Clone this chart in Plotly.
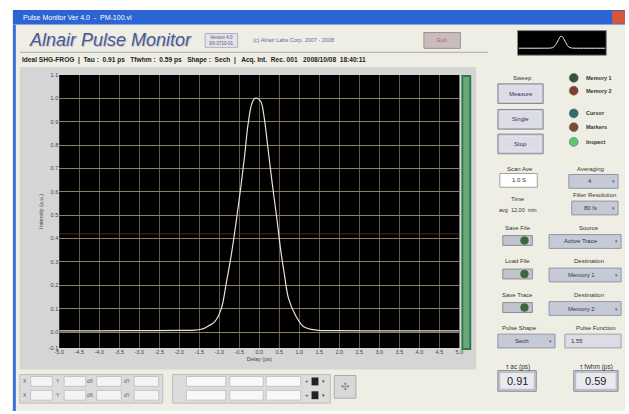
import plotly.graph_objects as go

# ---------------- data ----------------
delay_ps = [-5.0, -4.0, -3.0, -2.0, -1.6, -1.45, -1.36, -1.25, -1.11, -0.95, -0.82, -0.70,
            -0.58, -0.47, -0.37, -0.28, -0.19, -0.11, -0.05, 0.04, 0.12, 0.20, 0.28, 0.365,
            0.45, 0.53, 0.63, 0.73, 0.90, 1.10, 1.43, 2.0, 3.0, 4.0, 5.0]
intensity = [0.005, 0.005, 0.006, 0.007, 0.008, 0.012, 0.017, 0.028, 0.045, 0.10, 0.215, 0.33,
             0.47, 0.61, 0.75, 0.89, 0.975, 1.0, 1.0, 0.985, 0.92, 0.81, 0.695, 0.58,
             0.47, 0.356, 0.243, 0.144, 0.073, 0.024, 0.008, 0.006, 0.005, 0.005, 0.005]

x_tick_vals = [-5.0, -4.5, -4.0, -3.5, -3.0, -2.5, -2.0, -1.5, -1.0, -0.5, 0.0,
               0.5, 1.0, 1.5, 2.0, 2.5, 3.0, 3.5, 4.0, 4.5, 5.0]
x_tick_text = ["-5.0", "-4.5", "-4.0", "-3.5", "-3.0", "-2.5", "-2.0", "-1.5", "-1.0", "-0.5", "0.0",
               "0.5", "1.0", "1.5", "2.0", "2.5", "3.0", "3.5", "4.0", "4.5", "5.0"]
y_tick_vals = [-0.068, 0.0, 0.1, 0.2, 0.3, 0.4, 0.5, 0.6, 0.7, 0.8, 0.9, 1.0, 1.1]
y_tick_text = ["-0.1", "0.0", "0.1", "0.2", "0.3", "0.4", "0.5", "0.6", "0.7", "0.8", "0.9", "1.0", "1.1"]

cursor_x_ps = 0.5
cursor_y = 0.42

tau_ac_ps = "0.91"
tau_fwhm_ps = "0.59"

# ---------------- helpers (pixel -> paper) ----------------
W, H = 629, 414


def px(x):
    return x / W


def py(y):
    return 1 - y / H


shapes = []
annotations = []
FONT = "Liberation Sans"


def rect(x0, y0, x1, y1, fill, line=None, lw=1):
    shapes.append(dict(type="rect", xref="paper", yref="paper", layer="below",
                       x0=px(x0), x1=px(x1), y0=py(y1), y1=py(y0),
                       fillcolor=fill, line=dict(color=line or fill, width=lw if line else 0)))


def hline(x0, x1, y, color, lw=1):
    shapes.append(dict(type="line", xref="paper", yref="paper", layer="below",
                       x0=px(x0), x1=px(x1), y0=py(y), y1=py(y), line=dict(color=color, width=lw)))


def text(x, y, s, size=7, color="#333333", anchor="center", bold=False, italic=False, family=FONT):
    if bold:
        s = "<b>" + s + "</b>"
    if italic:
        s = "<i>" + s + "</i>"
    annotations.append(dict(x=px(x), y=py(y), xref="paper", yref="paper", text=s, showarrow=False,
                            xanchor=anchor, yanchor="middle",
                            font=dict(size=size, color=color, family=family)))


def circle(cx, cy, r, fill):
    shapes.append(dict(type="circle", xref="paper", yref="paper", layer="below",
                       x0=px(cx - r), x1=px(cx + r), y0=py(cy + r), y1=py(cy - r),
                       fillcolor=fill, line=dict(color="#555555", width=0.5)))


# window
rect(0, 0, 629, 414, "#ffffff")
rect(8, 7, 629, 22, "#2c64d4")
rect(8, 22, 629, 414, "#efeee4")
rect(8, 22, 11, 414, "#3a6fd8")
text(16, 14.5, "Pulse Monitor Ver 4.0  -  PM-100.vi", size=7, color="#ffffff", anchor="left")
rect(616, 8, 629, 21, "#d8553a")

# header
text(23, 39, "Alnair Pulse Monitor", size=18, color="#c8c8d8", anchor="left", italic=True)
text(22, 38, "Alnair Pulse Monitor", size=18, color="#4a5a8e", anchor="left", italic=True)
rect(203, 31, 236, 45, "#e4e4ec", "#b0b0c0")
text(219.5, 35, "Version 4.0", size=4.5, color="#555577")
text(219.5, 41, "SN 0710-01", size=4.5, color="#555577")
text(250, 38, "(c) Alnair Labs Corp. 2007 - 2008", size=5.5, color="#5a6a9a", anchor="left")
rect(425, 30, 462, 46, "#c8bcbc", "#9a9090")
text(443.5, 38, "Exit", size=6, color="#c06060")
hline(15, 490, 50, "#a8a8a8", 1)
text(15, 58, "Ideal SHG-FROG  |  Tau :  0.91 ps   Tfwhm :  0.59 ps   Shape :  Sech  |   Acq. Int.  Rec. 001   2008/10/08  18:40:11",
     size=6.6, color="#222222", anchor="left", bold=True)

# mini scope
rect(520, 28, 610, 53, "#000000", "#888888")

# chart panel
rect(15, 65, 478, 372, "#d5d5d5")
rect(55, 73, 461, 350, "#000000")
rect(463, 73, 473, 352, "#2f7a4a")
rect(465, 75, 471, 350, "#6aa87c")

# bottom cursor panels
rect(15, 377, 160, 406, "#dcdcdc", "#bcbcbc")
for row_y in (384, 398):
    for (bx0, bx1) in ((26, 48), (60, 82), (93, 118), (131, 156)):
        rect(bx0, row_y - 5, bx1, row_y + 5, "#f4f4f4", "#c4c4c4")
    for lx, lab in ((20, "X"), (54, "Y"), (87, "dX"), (124, "dY")):
        text(lx, row_y, lab, size=5, color="#555555")
rect(170, 377, 330, 406, "#dcdcdc", "#bcbcbc")
for row_y in (384, 398):
    for (bx0, bx1) in ((184, 224), (228, 262), (265, 300)):
        rect(bx0, row_y - 5, bx1, row_y + 5, "#f8f8f8", "#c4c4c4")
    rect(311, row_y - 4, 318, row_y + 4, "#222222")
    text(306, row_y, "+", size=6, color="#444444")
    text(323, row_y, "▾", size=5, color="#444444")
rect(334, 378, 356, 401, "#d8d8d8", "#aaaaaa")
text(345, 389.5, "✣", size=10, color="#888888")

# right control panel
def button(x0, y0, x1, y1, label):
    rect(x0, y0, x1, y1, "#c8c8d4", "#8a8a9a", 1)
    rect(x0 + 2, y0 + 2, x1 - 2, y1 - 2, "#dcdce6", "#f4f4f8", 0.5)
    text((x0 + x1) / 2, (y0 + y1) / 2, label, size=6, color="#333355")


def dropdown(x0, y0, x1, y1, label):
    rect(x0, y0, x1, y1, "#c6cad6", "#9096a8", 1)
    text((x0 + x1) / 2 - 4, (y0 + y1) / 2, label, size=6, color="#333344")
    text(x1 - 5, (y0 + y1) / 2, "▾", size=5, color="#666677")


def toggle(x0, y0):
    rect(x0, y0, x0 + 30, y0 + 10, "#c0c4cc", "#8a8e98", 1)
    circle(x0 + 22, y0 + 5, 4, "#3a6a3a")


text(525, 76, "Sweep", size=6)
button(500, 82, 546, 102, "Measure")
button(500, 108, 546, 128, "Single")
button(500, 133, 546, 153, "Stop")

for cy, col, lab in ((76, "#2f5a34", "Memory 1"), (89, "#8a3a2e", "Memory 2"),
                     (112, "#2f6e6e", "Cursor"), (126, "#7a4a3a", "Markers"),
                     (141, "#5ac870", "Inspect")):
    circle(577, cy, 4.5, col)
    text(587, cy, lab, size=5.5, color="#333333", anchor="left", bold=True)

text(522, 168, "Scan Ave", size=6)
rect(502, 173, 540, 187, "#ffffff", "#a0a0a0")
text(521, 180, "1.0 S", size=6)
text(594, 168, "Averaging", size=6)
dropdown(572, 174, 622, 188, "4")
text(520, 199, "Time", size=6)
text(520, 210, "avg  12.00  min", size=5.5)
text(598, 195, "Filter Resolution", size=6)
dropdown(575, 201, 622, 215, "80 fs")

text(520, 228, "Save File", size=6)
toggle(505, 236)
text(592, 228, "Source", size=6)
dropdown(552, 235, 625, 249, "Active Trace")

text(520, 262, "Load File", size=6)
toggle(505, 270)
text(592, 262, "Destination", size=6)
dropdown(552, 269, 625, 283, "Memory 1")

text(520, 296, "Save Trace", size=6)
toggle(505, 304)
text(592, 296, "Destination", size=6)
dropdown(552, 303, 625, 317, "Memory 2")

text(522, 330, "Pulse Shape", size=6)
dropdown(500, 336, 558, 350, "Sech")
text(600, 330, "Pulse Function", size=6)
rect(568, 336, 625, 350, "#dcdce4", "#a0a0b0")
text(572, 343, "1.55", size=6, anchor="left")

text(520, 369, "τ ac (ps)", size=6.5)
rect(500, 373, 539, 394, "#c4c8d0", "#8a8e98", 1)
rect(502, 375, 537, 392, "#e8eaf0", "#a0a4ae", 0.5)
text(519.5, 383.5, tau_ac_ps, size=11, color="#222222")
text(600, 369, "τ fwhm (ps)", size=6.5)
rect(577, 373, 622, 394, "#c4c8d0", "#8a8e98", 1)
rect(579, 375, 620, 392, "#e8eaf0", "#a0a4ae", 0.5)
text(599.5, 383.5, tau_fwhm_ps, size=11, color="#222222")

# cursor lines inside the plot (data coordinates)
shapes.append(dict(type="line", xref="x", yref="y", layer="below", x0=cursor_x_ps, x1=cursor_x_ps,
                   y0=-0.068, y1=1.1, line=dict(color="#6a1e22", width=1)))
shapes.append(dict(type="line", xref="x", yref="y", layer="below", x0=-5, x1=5,
                   y0=cursor_y, y1=cursor_y, line=dict(color="#5a1e22", width=1)))

# ---------------- figure ----------------
fig = go.Figure()
fig.add_trace(go.Scatter(x=delay_ps, y=intensity, mode="lines", line=dict(color="#ece0e0", width=1.2, shape="spline"),
                         xaxis="x", yaxis="y", showlegend=False, hoverinfo="skip"))
fig.add_trace(go.Scatter(x=delay_ps, y=intensity, mode="lines", line=dict(color="#f0f0f0", width=1, shape="spline"),
                         xaxis="x2", yaxis="y2", showlegend=False, hoverinfo="skip"))

axis_font = dict(size=5.5, color="#444444", family=FONT)
fig.update_layout(
    width=W, height=H,
    margin=dict(l=0, r=0, t=0, b=0),
    paper_bgcolor="#ffffff",
    plot_bgcolor="rgba(0,0,0,0)",
    shapes=shapes,
    annotations=annotations,
    xaxis=dict(domain=[px(55), px(461)], range=[-5, 5], tickvals=x_tick_vals, ticktext=x_tick_text,
               showgrid=True, gridcolor="#5e5a46", gridwidth=1, zeroline=False, showline=False,
               tickfont=axis_font, ticks="", ticklen=0,
               title=dict(text="Delay (ps)", font=dict(size=5.5, color="#444444", family=FONT), standoff=2),
               anchor="y", fixedrange=True),
    yaxis=dict(domain=[py(350), py(73)], range=[-0.068, 1.1], tickvals=y_tick_vals, ticktext=y_tick_text,
               showgrid=True, gridcolor="#8a8262", gridwidth=1, zeroline=False, showline=False,
               tickfont=axis_font, ticks="",
               title=dict(text="Intensity (a.u.)", font=dict(size=5.5, color="#444444", family=FONT), standoff=4),
               anchor="x", fixedrange=True),
    xaxis2=dict(domain=[px(521), px(609)], range=[-5, 5], visible=False, anchor="y2", fixedrange=True),
    yaxis2=dict(domain=[py(52), py(29)], range=[-0.5, 1.4], visible=False, anchor="x2", fixedrange=True),
)

fig.write_html("out.html", config={"displayModeBar": False},
               post_script="document.body.style.margin='0px';document.body.style.overflow='hidden';")
